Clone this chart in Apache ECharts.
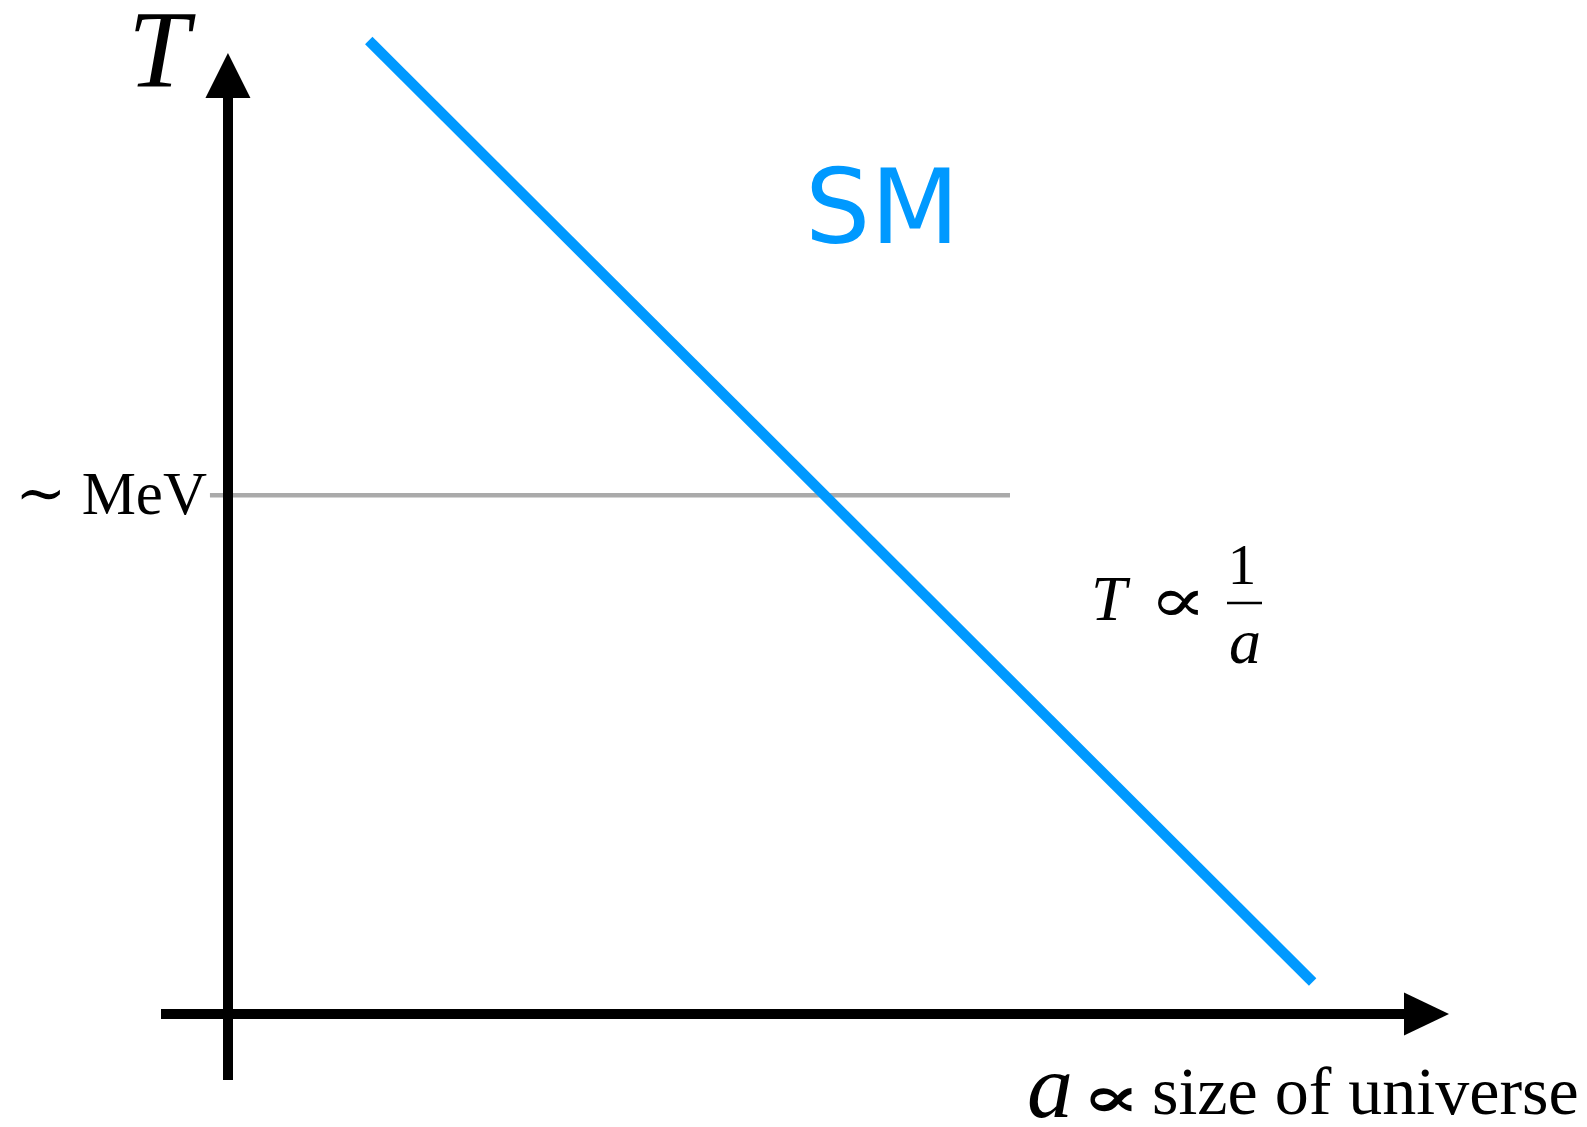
<!DOCTYPE html>
<html>
<head>
<meta charset="utf-8">
<script src="https://cdn.jsdelivr.net/npm/echarts@6/dist/echarts.min.js"></script>
<style>
  html, body { margin: 0; padding: 0; background: #fff; }
  #main { width: 1587px; height: 1127px; }
</style>
</head>
<body>
<div id="main"></div>
<script>
// schematic: T vs a, straight line on log-log, with the ~MeV level
var xRange = [-0.67, 12];
var yRange = [-0.66, 9.39];

var smLineA = [1.41, 10.86];
var smLineT = [9.74, 0.32];

var mevLevel = 5.19;
var mevFrom = -0.18;
var mevTo = 7.83;

var serif = '"Liberation Serif", "DejaVu Serif", serif';

var chart = echarts.init(document.getElementById('main'), null, { renderer: 'svg' });

var option = {
    backgroundColor: '#fff',
    animation: false,
    grid: {
        left: 161,
        right: 160.5,
        top: 75.5,
        bottom: 47
    },
    xAxis: {
        type: 'value',
        min: xRange[0],
        max: xRange[1],
        z: 5,
        axisLine: {
            show: true,
            onZero: true,
            symbol: ['none', 'triangle'],
            symbolSize: [43, 45],
            lineStyle: { color: '#000', width: 10, cap: 'butt' }
        },
        axisTick: { show: false },
        axisLabel: { show: false },
        splitLine: { show: false }
    },
    yAxis: {
        type: 'value',
        min: yRange[0],
        max: yRange[1],
        z: 5,
        axisLine: {
            show: true,
            onZero: true,
            symbol: ['none', 'triangle'],
            symbolSize: [45, 45],
            lineStyle: { color: '#000', width: 10, cap: 'butt' }
        },
        axisTick: { show: false },
        axisLabel: { show: false },
        splitLine: { show: false }
    },
    series: [{
        name: 'MeV',
        type: 'line',
        z: 1,
        showSymbol: false,
        symbol: 'none',
        silent: true,
        data: [[mevFrom, mevLevel], [mevTo, mevLevel]],
        lineStyle: { color: '#aaaaaa', width: 4.5, cap: 'butt' }
    }, {
        name: 'SM',
        type: 'line',
        z: 2,
        clip: false,
        showSymbol: false,
        symbol: 'none',
        silent: true,
        data: smLineA.map(function (a, i) { return [a, smLineT[i]]; }),
        lineStyle: { color: '#0099ff', width: 10.5, cap: 'butt' }
    }],
    graphic: [{
        type: 'text', x: 128, y: 50,
        style: { text: 'T', font: 'italic 110px ' + serif, lineHeight: 80, fill: '#000', align: 'left', verticalAlign: 'middle' }
    }, {
        type: 'text', x: 805, y: 207,
        style: { text: 'SM', font: '103px "DejaVu Sans", sans-serif', fill: '#0099ff', align: 'left', verticalAlign: 'middle' }
    }, {
        type: 'text', x: 207, y: 493,
        style: { text: '\u223C MeV', font: '61px ' + serif, fill: '#000', align: 'right', verticalAlign: 'middle' }
    }, {
        type: 'text', x: 1091, y: 598,
        style: { text: 'T', font: 'italic 64px ' + serif, fill: '#000', align: 'left', verticalAlign: 'middle' }
    }, {
        type: 'text', x: 1178, y: 600, scaleX: 1.35, originX: 0,
        style: { text: '\u221D', font: '64px "DejaVu Serif", serif', fill: '#000', align: 'center', verticalAlign: 'middle' }
    }, {
        type: 'text', x: 1242, y: 564,
        style: { text: '1', font: '57px ' + serif, fill: '#000', align: 'center', verticalAlign: 'middle' }
    }, {
        type: 'line',
        shape: { x1: 1227, y1: 603, x2: 1262, y2: 603 },
        style: { stroke: '#000', lineWidth: 2.5 }
    }, {
        type: 'text', x: 1245, y: 641,
        style: { text: 'a', font: 'italic 64px ' + serif, fill: '#000', align: 'center', verticalAlign: 'middle' }
    }, {
        type: 'text', x: 1027, y: 1086,
        style: { text: 'a', font: 'italic 92px ' + serif, lineHeight: 60, fill: '#000', align: 'left', verticalAlign: 'middle' }
    }, {
        type: 'text', x: 1111, y: 1097, scaleX: 1.5, originX: 0,
        style: { text: '\u221D', font: 'bold 58px "DejaVu Serif", serif', lineHeight: 50, fill: '#000', align: 'center', verticalAlign: 'middle' }
    }, {
        type: 'text', x: 1152, y: 1091,
        style: { text: 'size of universe', font: '68px ' + serif, lineHeight: 60, fill: '#000', align: 'left', verticalAlign: 'middle' }
    }]
};

chart.setOption(option);
</script>
</body>
</html>
